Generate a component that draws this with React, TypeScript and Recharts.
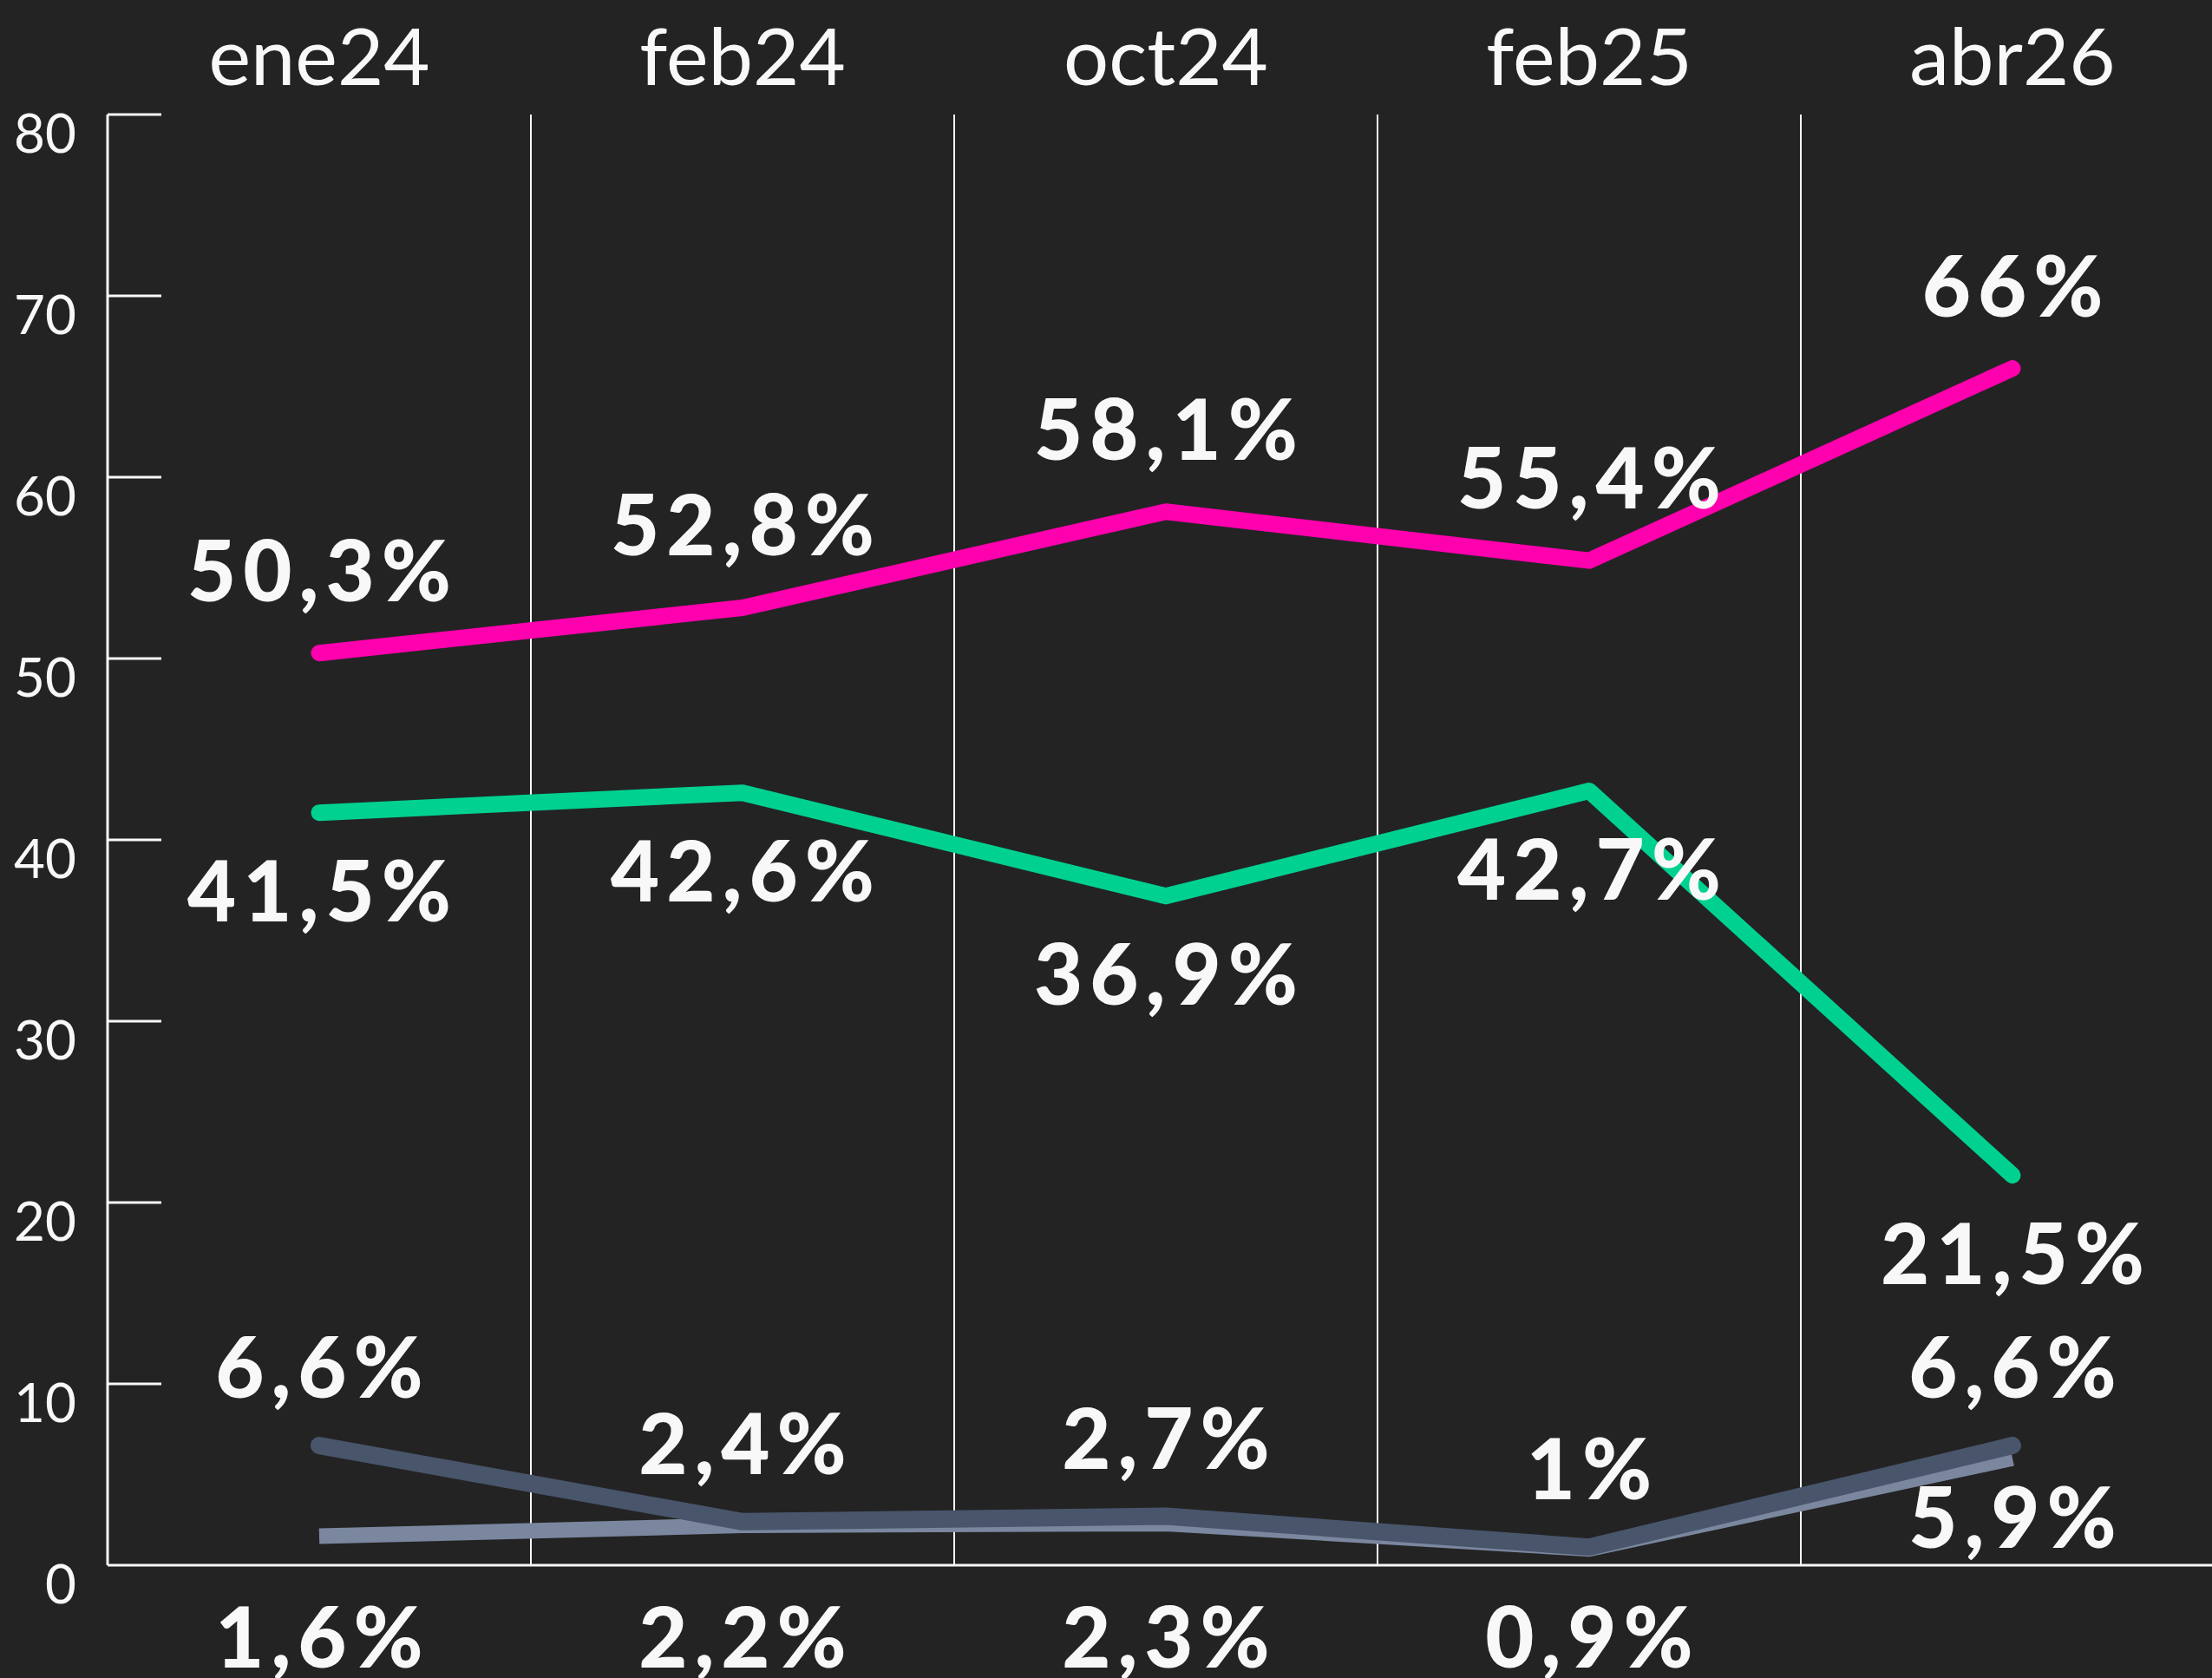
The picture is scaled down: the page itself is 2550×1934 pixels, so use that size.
import React from 'react';
import {
  LineChart,
  Line,
  XAxis,
  YAxis,
  CartesianGrid,
  LabelList
} from 'recharts';

const months = ['ene24', 'feb24', 'oct24', 'feb25', 'abr26'];
const pinkSeries = [50.3, 52.8, 58.1, 55.4, 66];
const greenSeries = [41.5, 42.6, 36.9, 42.7, 21.5];
const darkSeries = [6.6, 2.4, 2.7, 1, 6.6];
const lightSeries = [1.6, 2.2, 2.3, 0.9, 5.9];
const yTicks = [0, 10, 20, 30, 40, 50, 60, 70, 80];

const data = months.map((m, i) => ({
  month: m,
  pink: pinkSeries[i],
  green: greenSeries[i],
  dark: darkSeries[i],
  light: lightSeries[i]
}));

// layout
const W = 2564;
const H = 1934;
const TOP_AXIS_H = 132;
const BOTTOM_AXIS_H = 130;
const Y_AXIS_W = 124;
const AXIS_Y = H - BOTTOM_AXIS_H;

const BG = '#232323';
const TEXT = '#f8f8f8';
const FONT = 'Lato, "Open Sans", sans-serif';

const fmt = (v: number) => String(v).replace('.', ',') + '%';

const makeLabel = (offset: number, pushBelowAxis = false) => (props: any) => {
  const { x, y, value } = props;
  let by = y + offset;
  // labels that would run into the x axis go underneath it
  if (pushBelowAxis && by > AXIS_Y - 6) by = AXIS_Y + 118;
  return (
    <text
      x={x + 4}
      y={by}
      textAnchor="middle"
      fill={TEXT}
      fontSize={97}
      fontWeight={900}
      letterSpacing={8}
      fontFamily={FONT}
    >
      {fmt(value)}
    </text>
  );
};

const MonthTick = (props: any) => {
  const { x, y, payload } = props;
  return (
    <text x={x} y={y} dy={-34} textAnchor="middle" fill={TEXT} fontSize={92} fontFamily={FONT}>
      {payload.value}
    </text>
  );
};

const ValueTick = (props: any) => {
  const { x, y, payload } = props;
  return (
    <g>
      {payload.value !== 0 && <line x1={x} x2={x + 62} y1={y} y2={y} stroke={TEXT} strokeWidth={3} />}
      <text x={x - 36} y={y} dy={44} textAnchor="end" fill={TEXT} fontSize={62} fontFamily={FONT}>
        {payload.value}
      </text>
    </g>
  );
};

// vertical separators sit on the borders between the month bands
const bandBorders = ({ offset }: any) =>
  months.slice(1).map((_, i) => offset.left + ((i + 1) * offset.width) / months.length);

export default function App() {
  return (
    <div
      style={{
        position: 'absolute',
        left: 0,
        top: 0,
        width: 2550,
        height: 1934,
        overflow: 'hidden',
        background: BG
      }}
    >
      <LineChart width={W} height={H} data={data} margin={{ top: 0, right: 0, bottom: 0, left: 0 }}>
        <XAxis
          xAxisId="cat"
          dataKey="month"
          scale="band"
          orientation="top"
          height={TOP_AXIS_H}
          axisLine={false}
          tickLine={false}
          tickSize={0}
          tickMargin={0}
          tick={<MonthTick />}
          interval={0}
        />
        <XAxis
          xAxisId="base"
          dataKey="month"
          scale="band"
          orientation="bottom"
          height={BOTTOM_AXIS_H}
          axisLine={{ stroke: TEXT, strokeWidth: 3 }}
          tickLine={false}
          tick={false}
        />
        <YAxis
          domain={[0, 80]}
          ticks={yTicks}
          width={Y_AXIS_W}
          axisLine={{ stroke: TEXT, strokeWidth: 3 }}
          tickLine={false}
          tickSize={0}
          tickMargin={0}
          tick={<ValueTick />}
          interval={0}
        />
        <CartesianGrid
          xAxisId="cat"
          horizontal={false}
          stroke={TEXT}
          strokeWidth={2}
          verticalCoordinatesGenerator={bandBorders}
        />
        <Line
          xAxisId="cat"
          dataKey="light"
          stroke="#7a879f"
          strokeWidth={18}
          strokeLinecap="butt"
          dot={false}
          activeDot={false}
          isAnimationActive={false}
        >
          <LabelList dataKey="light" content={makeLabel(103, true)} />
        </Line>
        <Line
          xAxisId="cat"
          dataKey="dark"
          stroke="#48556b"
          strokeWidth={20}
          strokeLinecap="round"
          strokeLinejoin="round"
          dot={false}
          activeDot={false}
          isAnimationActive={false}
        >
          <LabelList dataKey="dark" content={makeLabel(-55)} />
        </Line>
        <Line
          xAxisId="cat"
          dataKey="green"
          stroke="#00d190"
          strokeWidth={19}
          strokeLinecap="round"
          strokeLinejoin="round"
          dot={false}
          activeDot={false}
          isAnimationActive={false}
        >
          <LabelList dataKey="green" content={makeLabel(125)} />
        </Line>
        <Line
          xAxisId="cat"
          dataKey="pink"
          stroke="#ff00ae"
          strokeWidth={19}
          strokeLinecap="round"
          strokeLinejoin="round"
          dot={false}
          activeDot={false}
          isAnimationActive={false}
        >
          <LabelList dataKey="pink" content={makeLabel(-60)} />
        </Line>
      </LineChart>
    </div>
  );
}
